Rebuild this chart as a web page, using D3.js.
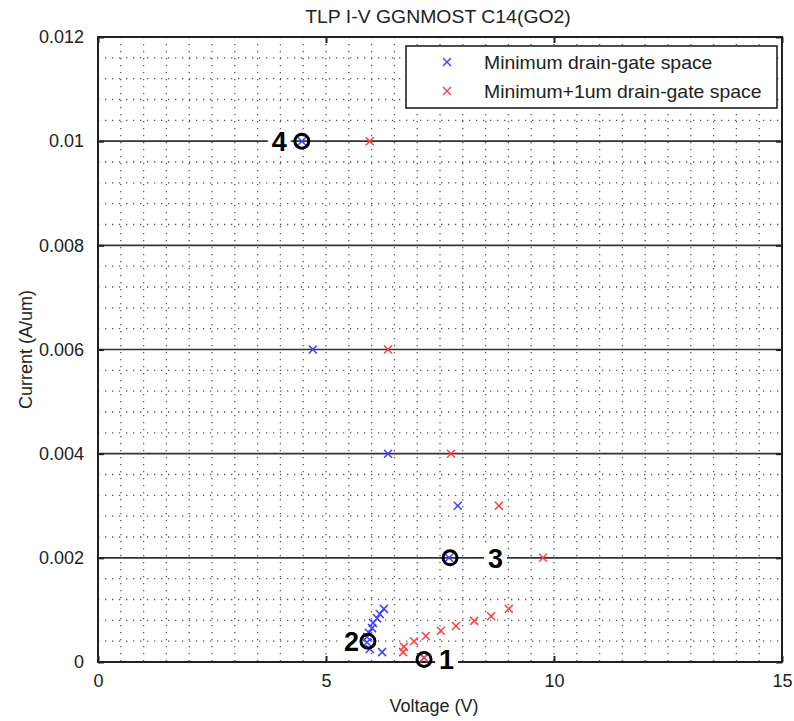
<!DOCTYPE html>
<html>
<head>
<meta charset="utf-8">
<script src="https://cdn.jsdelivr.net/npm/d3@7"></script>
<style>
  html, body { margin: 0; padding: 0; background: #fff; }
  svg { display: block; }
  text { font-family: "Liberation Sans", Arial, Helvetica, sans-serif; }
</style>
</head>
<body>
<div id="chart"></div>
<script>
// ---------------- data ----------------
const title = "TLP I-V GGNMOST C14(GO2)";
const xLabel = "Voltage (V)";
const yLabel = "Current (A/um)";
const xTicks = [0, 5, 10, 15];
const yTicks = [0, 0.002, 0.004, 0.006, 0.008, 0.01, 0.012];
const yTickLabels = ["0", "0.002", "0.004", "0.006", "0.008", "0.01", "0.012"];
const seriesNames = ["Minimum drain-gate space", "Minimum+1um drain-gate space"];

// Minimum drain-gate space
const minV = [4.47, 4.71, 6.36, 7.89, 7.70, 6.27, 6.18, 6.12, 6.03, 6.01, 5.94, 5.90, 5.90, 5.96, 6.23, 7.15];
const minI = [0.0100, 0.0060, 0.0040, 0.0030, 0.0020, 0.00102, 0.00092, 0.00084, 0.00075, 0.00065, 0.00056, 0.00048, 0.00038, 0.00025, 0.00019, 0.00008];
// Minimum+1um drain-gate space
const plusV = [5.96, 6.36, 7.74, 8.79, 9.76, 9.01, 8.62, 8.25, 7.85, 7.52, 7.19, 6.93, 6.71, 6.69, 7.15];
const plusI = [0.0100, 0.0060, 0.0040, 0.0030, 0.0020, 0.00102, 0.00088, 0.00079, 0.00069, 0.00060, 0.00050, 0.00040, 0.00029, 0.00019, 0.00008];

// annotated points
const markLabels = ["1", "2", "3", "4"];
const markV = [7.15, 5.92, 7.72, 4.47];
const markI = [0.00005, 0.0004, 0.002, 0.01];

// ---------------- layout ----------------
const W = 794, H = 721;
const margin = { left: 98, right: 12, top: 37, bottom: 59 };
const colors = ["#4040ff", "#ff4040"];
// label placement relative to circle (pixels), per label
const labelPlace = { "1": { dx: 15, side: "start" }, "2": { dx: -9, side: "end" },
                     "3": { dx: 38, side: "start" }, "4": { dx: -15, side: "end" } };

const svg = d3.select("#chart").append("svg").attr("width", W).attr("height", H);

const x = d3.scaleLinear().domain([0, 15]).range([margin.left, W - margin.right]);
const y = d3.scaleLinear().domain([0, 0.012]).range([H - margin.bottom, margin.top]);

const x0 = x.range()[0], x1 = x.range()[1], yb = y.range()[0], yt = y.range()[1];

// dotted minor grid
const g = svg.append("g");
const vMinor = d3.range(1, 30).map(i => i * 0.5);
g.selectAll(".vg").data(vMinor).enter().append("line")
  .attr("x1", d => x(d)).attr("x2", d => x(d))
  .attr("y1", yt).attr("y2", yb)
  .attr("stroke", "#555").attr("stroke-width", 1.3)
  .attr("stroke-dasharray", "1.3,5.7");
const hMinor = d3.range(1, 30).map(i => i * 0.0004).filter(d => Math.abs(d / 0.002 - Math.round(d / 0.002)) > 1e-6);
g.selectAll(".hg").data(hMinor).enter().append("line")
  .attr("x1", x0).attr("x2", x1)
  .attr("y1", d => y(d)).attr("y2", d => y(d))
  .attr("stroke", "#555").attr("stroke-width", 1.3)
  .attr("stroke-dasharray", "1.3,5.7");

// solid major horizontal lines
g.selectAll(".hm").data(yTicks.filter(d => d > 0 && d < 0.012)).enter().append("line")
  .attr("x1", x0).attr("x2", x1)
  .attr("y1", d => y(d)).attr("y2", d => y(d))
  .attr("stroke", "#333").attr("stroke-width", 1.6);

// axes
const xAxis = d3.axisBottom(x).tickValues(xTicks).tickFormat(d3.format("d")).tickSizeInner(-6).tickSizeOuter(0).tickPadding(12);
const xAxisTop = d3.axisTop(x).tickValues(xTicks).tickFormat("").tickSizeInner(-6).tickSizeOuter(0);
const yAxis = d3.axisLeft(y).tickValues(yTicks).tickFormat((d, i) => yTickLabels[i]).tickSizeInner(-6).tickSizeOuter(0).tickPadding(14);
const yAxisR = d3.axisRight(y).tickValues(yTicks).tickFormat("").tickSizeInner(-6).tickSizeOuter(0);

function styleAxis(sel) {
  sel.select(".domain").remove();
  sel.selectAll("line").attr("stroke", "#222").attr("stroke-width", 2);
  sel.selectAll("text").attr("fill", "#222").style("font-size", "18px")
     .style("font-family", "'Liberation Sans', Arial, sans-serif");
}
svg.append("g").attr("transform", `translate(0,${yb})`).call(xAxis).call(styleAxis);
svg.append("g").attr("transform", `translate(0,${yt})`).call(xAxisTop).call(styleAxis);
svg.append("g").attr("transform", `translate(${x0},0)`).call(yAxis).call(styleAxis);
svg.append("g").attr("transform", `translate(${x1},0)`).call(yAxisR).call(styleAxis);

// frame
svg.append("rect").attr("x", x0).attr("y", yt).attr("width", x1 - x0).attr("height", yb - yt)
  .attr("fill", "none").attr("stroke", "#222").attr("stroke-width", 2);

// markers
function cross(sel, color, s) {
  sel.each(function () {
    const e = d3.select(this);
    e.append("line").attr("x1", -s).attr("y1", -s).attr("x2", s).attr("y2", s);
    e.append("line").attr("x1", -s).attr("y1", s).attr("x2", s).attr("y2", -s);
  }).attr("stroke", color).attr("stroke-width", 1.5);
}
const sets = [
  { V: minV, I: minI, c: colors[0] },
  { V: plusV, I: plusI, c: colors[1] }
];
sets.forEach(s => {
  const pts = s.V.map((v, i) => [v, s.I[i]]);
  svg.append("g").selectAll("g").data(pts).enter().append("g")
    .attr("transform", d => `translate(${x(d[0])},${y(d[1])})`)
    .call(cross, s.c, 4);
});

// annotations
const ann = svg.append("g");
markLabels.forEach((lab, i) => {
  const cx = x(markV[i]), cy = y(markI[i]);
  const p = labelPlace[lab];
  const t = ann.append("text").text(lab)
    .attr("x", cx + p.dx).attr("y", cy + 10)
    .attr("text-anchor", p.side)
    .style("font-size", "27px").style("font-weight", "bold").attr("fill", "#000");
  const bb = t.node().getBBox();
  ann.insert("rect", () => t.node())
    .attr("x", bb.x - 4).attr("y", bb.y + 3).attr("width", bb.width + 8).attr("height", bb.height - 6)
    .attr("fill", "#fff");
  ann.append("circle").attr("cx", cx).attr("cy", cy).attr("r", 7)
    .attr("fill", "none").attr("stroke", "#000").attr("stroke-width", 3);
});

// legend
const lg = svg.append("g");
const lx = 406, ly = 46, lw = 371, lh = 62;
lg.append("rect").attr("x", lx).attr("y", ly).attr("width", lw).attr("height", lh)
  .attr("fill", "#fff").attr("stroke", "#222").attr("stroke-width", 1.6);
seriesNames.forEach((name, i) => {
  const yy = ly + 16 + i * 29;
  lg.append("g").attr("transform", `translate(${lx + 41},${yy})`).call(cross, colors[i], 4);
  lg.append("text").text(name)
    .attr("transform", `translate(${lx + 78},${yy + 7}) scale(1.06,1)`)
    .style("font-size", "18.3px").attr("fill", "#222");
});

// title and labels
svg.append("text").text(title)
  .attr("transform", `translate(${(x0 + x1) / 2 - 2},23) scale(1.05,1)`)
  .attr("text-anchor", "middle").style("font-size", "18.5px").attr("fill", "#222");
svg.append("text").text(xLabel).attr("x", (x0 + x1) / 2 - 6).attr("y", 712)
  .attr("text-anchor", "middle").style("font-size", "18px").attr("fill", "#222");
svg.append("text").text(yLabel)
  .attr("transform", `translate(32,${(yt + yb) / 2}) rotate(-90)`)
  .attr("text-anchor", "middle").style("font-size", "18px").attr("fill", "#222");
</script>
</body>
</html>
